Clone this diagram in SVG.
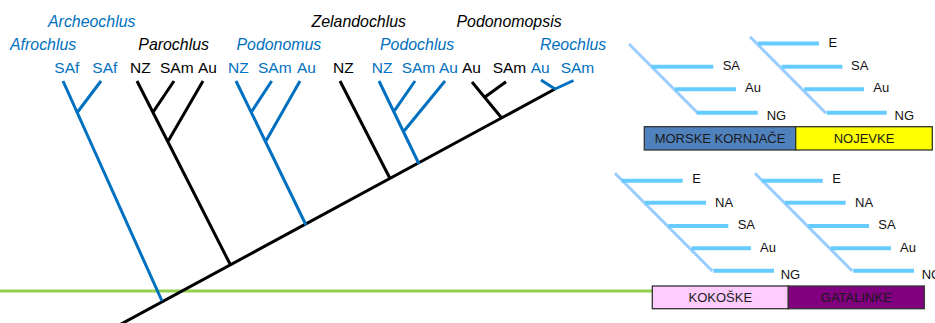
<svg xmlns="http://www.w3.org/2000/svg" width="935" height="323" viewBox="0 0 935 323">
<style>
.t{font-family:"Liberation Sans",Arial,sans-serif;font-size:15.5px}
.g{font-family:"Liberation Sans",Arial,sans-serif;font-size:15.9px;font-style:italic}
.b{fill:#0070C0}
.k{fill:#000}
.sb{stroke:#0070C0;stroke-width:3;fill:none;stroke-linecap:butt}
.sk{stroke:#000;stroke-width:3;fill:none}
.bar{stroke:#66CCFF;stroke-width:4}
.dg{stroke:#99CCFF;stroke-width:3}
.rl{font-family:"Liberation Sans",Arial,sans-serif;font-size:13px;fill:#111}
.bx{stroke:#333;stroke-width:1.3}
.bt{font-family:"Liberation Sans",Arial,sans-serif;font-size:13px;fill:#1a1a1a;text-anchor:middle}
</style>
<rect width="935" height="323" fill="#fff"/>
<line x1="0" y1="291" x2="652" y2="291" stroke="#92D050" stroke-width="3"/>
<g id="connectors">
<line class="sk" x1="118" y1="325.7" x2="555" y2="89"/>
<path class="sb" d="M63,81 L162,301 M101,81 L77.2,112.5"/>
<path class="sk" d="M137,81 L230,264 M174,81 L152.9,112.3 M203,81 L167.8,141.7"/>
<path class="sb" d="M236,81 L306,225 M271.7,81 L251.2,112.3 M300,81 L265.5,141.7"/>
<path class="sk" d="M340,81 L390,178.5"/>
<path class="sb" d="M379,81 L419,164 M415,81 L393.8,111.7 M445,81 L403.4,131.7"/>
<path class="sk" d="M472,82 L501.7,118 M506,81.7 L485,97"/>
<path class="sb" d="M541,80 L555,89 M573.5,80.5 L555,89"/>
</g>
<g id="genera">
<text class="g b" x="48" y="26.7">Archeochlus</text>
<text class="g k" x="311.5" y="26.7">Zelandochlus</text>
<text class="g k" x="456.5" y="26.7">Podonomopsis</text>
<text class="g b" x="10" y="49.5">Afrochlus</text>
<text class="g k" x="138.3" y="49.5">Parochlus</text>
<text class="g b" x="236.5" y="49.5">Podonomus</text>
<text class="g b" x="380" y="49.5">Podochlus</text>
<text class="g b" x="540" y="49.5">Reochlus</text>
</g>
<g id="tips">
<text class="t b" x="54.3" y="72.6">SAf</text>
<text class="t b" x="92.3" y="72.6">SAf</text>
<text class="t k" x="130" y="72.6">NZ</text>
<text class="t k" x="160" y="72.6">SAm</text>
<text class="t k" x="198" y="72.6">Au</text>
<text class="t b" x="228" y="72.6">NZ</text>
<text class="t b" x="258" y="72.6">SAm</text>
<text class="t b" x="297" y="72.6">Au</text>
<text class="t k" x="333" y="72.6">NZ</text>
<text class="t b" x="371.7" y="72.6">NZ</text>
<text class="t b" x="401.7" y="72.6">SAm</text>
<text class="t b" x="439" y="72.6">Au</text>
<text class="t k" x="462" y="72.6">Au</text>
<text class="t k" x="492.7" y="72.6">SAm</text>
<text class="t b" x="530.7" y="72.6">Au</text>
<text class="t b" x="560.7" y="72.6">SAm</text>
</g>
<g id="morske-kornjace">
<line class="dg" x1="629" y1="44" x2="698" y2="113.3"/>
<line class="bar" x1="651.7" y1="66.7" x2="713.3" y2="66.7"/>
<line class="bar" x1="675" y1="89.3" x2="736" y2="89.3"/>
<line class="bar" x1="696.7" y1="112.7" x2="757.7" y2="112.7"/>
<text class="rl" x="722.7" y="70">SA</text>
<text class="rl" x="745" y="92">Au</text>
<text class="rl" x="766.7" y="120">NG</text>
</g>
<g id="nojevke">
<line class="dg" x1="750" y1="36.7" x2="826" y2="113.3"/>
<line class="bar" x1="758" y1="43.5" x2="819" y2="43.5"/>
<line class="bar" x1="781.7" y1="66.7" x2="842.3" y2="66.7"/>
<line class="bar" x1="804.3" y1="89.3" x2="864" y2="89.3"/>
<line class="bar" x1="826.7" y1="112.7" x2="886.7" y2="112.7"/>
<text class="rl" x="828.5" y="46.7">E</text>
<text class="rl" x="851" y="70">SA</text>
<text class="rl" x="873.3" y="92">Au</text>
<text class="rl" x="894.5" y="120">NG</text>
</g>
<g id="kokoske">
<line class="dg" x1="615" y1="173.3" x2="712.3" y2="271"/>
<line class="bar" x1="621.7" y1="180.7" x2="682.7" y2="180.7"/>
<line class="bar" x1="645" y1="202.7" x2="706" y2="202.7"/>
<line class="bar" x1="668.3" y1="226" x2="728.3" y2="226"/>
<line class="bar" x1="691.7" y1="248.3" x2="751" y2="248.3"/>
<line class="bar" x1="713.3" y1="270.7" x2="774" y2="270.7"/>
<text class="rl" x="692.3" y="183.3">E</text>
<text class="rl" x="715" y="206.5">NA</text>
<text class="rl" x="737.7" y="229.3">SA</text>
<text class="rl" x="760" y="251.7">Au</text>
<text class="rl" x="780.7" y="279.3">NG</text>
</g>
<g id="gatalinke">
<line class="dg" x1="755" y1="173.3" x2="852.3" y2="271"/>
<line class="bar" x1="761.7" y1="180.7" x2="822.7" y2="180.7"/>
<line class="bar" x1="785" y1="202.7" x2="845.7" y2="202.7"/>
<line class="bar" x1="808.3" y1="226" x2="869" y2="226"/>
<line class="bar" x1="831" y1="248.3" x2="891" y2="248.3"/>
<line class="bar" x1="853.3" y1="270.7" x2="914" y2="270.7"/>
<text class="rl" x="832.3" y="183.3">E</text>
<text class="rl" x="855" y="206.5">NA</text>
<text class="rl" x="878.3" y="229.3">SA</text>
<text class="rl" x="900" y="251.7">Au</text>
<text class="rl" x="921.7" y="279.3">NG</text>
</g>
<g id="box-morske">
<rect class="bx" x="644.3" y="126.7" width="151.4" height="23.3" fill="#4F81BD"/>
<text class="bt" x="720" y="143.2">MORSKE KORNJAČE</text>
</g>
<g id="box-nojevke">
<rect class="bx" x="795.7" y="126.7" width="136.6" height="23.3" fill="#FFFF00"/>
<text class="bt" x="864" y="143.2">NOJEVKE</text>
</g>
<g id="box-kokoske">
<rect class="bx" x="652.3" y="286" width="136" height="22.7" fill="#FFCCFF"/>
<text class="bt" x="720.3" y="302">KOKOŠKE</text>
</g>
<g id="box-gatalinke">
<rect class="bx" x="788.3" y="286" width="136" height="22.7" fill="#800080"/>
<text class="bt" x="856.3" y="302">GATALINKE</text>
</g>
</svg>
